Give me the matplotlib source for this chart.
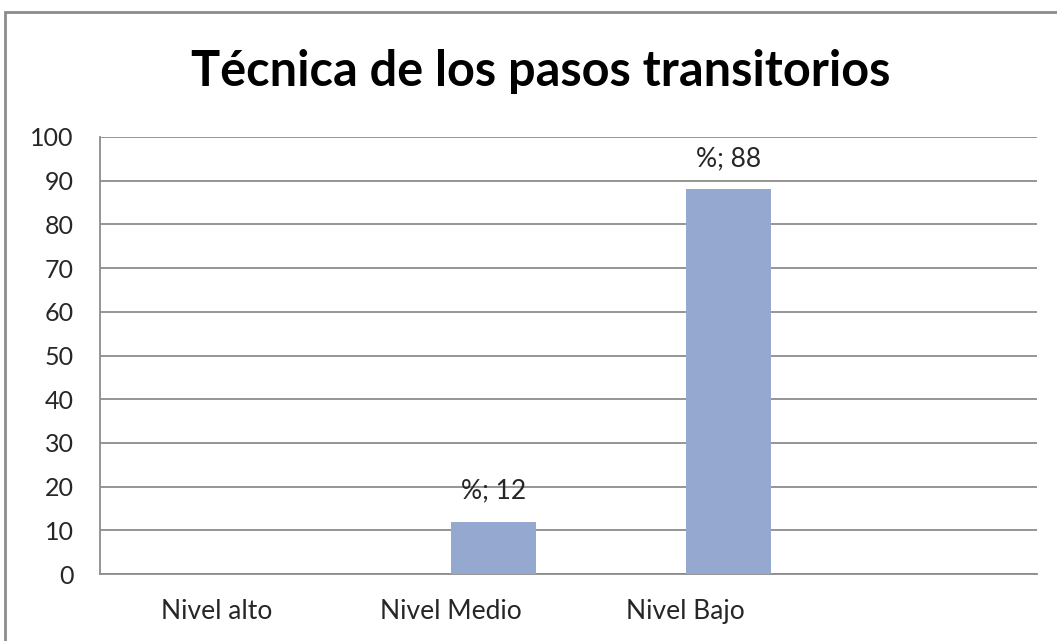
import numpy as np
import matplotlib.pyplot as plt
from matplotlib.patches import Rectangle

# datos
categorias = ['Nivel alto', 'Nivel Medio', 'Nivel Bajo', '']
serie_nombre = '%'
porcentaje = [np.nan, 12, 88, np.nan]
yticks = list(range(0, 101, 10))

plt.rcParams['font.family'] = ['Lato', 'DejaVu Sans']

fig = plt.figure(figsize=(10.57, 6.41), dpi=100)
W, H = 1057, 641

# marco exterior del grafico
fig.patches.append(Rectangle((5 / W, -0.1), 1.2, (641 - 12) / H + 0.1,
                             transform=fig.transFigure, fill=False,
                             edgecolor='#8c8c8c', linewidth=2))

ax = fig.add_axes([100 / W, (641 - 574) / H, 937 / W, (574 - 137) / H])

x = np.arange(len(categorias))
ancho = 0.363
barras = ax.bar(x + ancho / 2, porcentaje, width=ancho, color='#94A8D0', zorder=3)

for xi, v in zip(x, porcentaje):
    if not np.isnan(v):
        ax.annotate(f'{serie_nombre}; {v:g}', (xi + ancho / 2, v),
                    xytext=(0, 13), textcoords='offset points',
                    ha='center', va='bottom', fontsize=19, color='#262626')

ax.set_xlim(-0.5, len(categorias) - 0.5)
ax.set_ylim(0, 100)
ax.set_yticks(yticks)
ax.set_xticks(x)
ax.set_xticklabels(categorias)
ax.tick_params(axis='both', length=0, labelcolor='#262626')
ax.tick_params(axis='y', pad=19, labelsize=18)
ax.tick_params(axis='x', pad=18, labelsize=19)

ax.grid(axis='y', color='#8c8c8c', linewidth=1.3, zorder=0)
for lado in ['top', 'right']:
    ax.spines[lado].set_visible(False)
ax.spines['left'].set_color('#8c8c8c')
ax.spines['bottom'].set_color('#8c8c8c')
ax.spines['left'].set_linewidth(1.3)
ax.spines['bottom'].set_linewidth(1.3)

fig.text(541 / W, 1 - 72 / H, 'Técnica de los pasos transitorios',
         ha='center', va='center', fontsize=35, fontweight='bold', color='black')

fig.savefig('out.png', dpi=100)
